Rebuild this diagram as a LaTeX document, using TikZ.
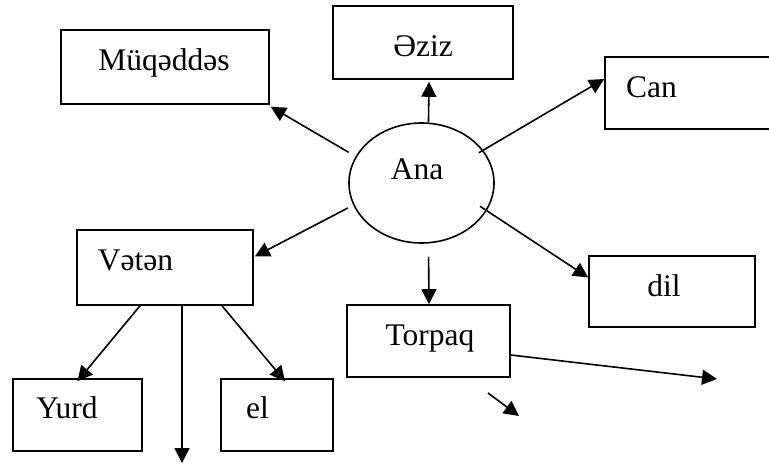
\documentclass[tikz,border=0pt]{standalone}
\usepackage{fontspec}
\setmainfont{Liberation Serif}
\usetikzlibrary{arrows.meta,shapes.geometric}
\begin{document}
\begin{tikzpicture}[x=1pt,y=-1pt,
  box/.style={draw,line width=1.6pt,inner sep=0pt,rectangle},
  txt/.style={anchor=base,inner sep=0pt,font=\fontsize{31.5}{36}\selectfont},
  arr/.style={line width=1.6pt,-{Triangle[length=15pt,width=15pt]}}]
\useasboundingbox (0,0) rectangle (769,476);
% boxes
\node[box,minimum width=208pt,minimum height=74pt] (muq) at (165,67) {};
\node[box,minimum width=180pt,minimum height=73pt] (aziz) at (423,42.5) {};
\node[box,minimum width=170pt,minimum height=72pt] (can) at (690,93) {};
\node[box,minimum width=166pt,minimum height=71pt] (dil) at (672,291.5) {};
\node[box,minimum width=163pt,minimum height=72pt] (torp) at (428.5,341) {};
\node[box,minimum width=176pt,minimum height=75pt] (vet) at (165,267.5) {};
\node[box,minimum width=129pt,minimum height=72pt] (yurd) at (77.5,415) {};
\node[box,minimum width=112pt,minimum height=72pt] (el) at (277,415) {};
\node[draw,line width=1.6pt,ellipse,inner sep=0pt,minimum width=145pt,minimum height=120pt] (ana) at (421.5,183) {};
% texts
\node[txt] (tmuq) at (164,71) {Müqəddəs};
\node[txt] (taziz) at (423,57) {Əziz};
\node[txt] (tcan) at (651.5,98) {Can};
\node[txt] (tana) at (417,180) {Ana};
\node[txt] (tdil) at (664,296) {dil};
\node[txt] (ttorp) at (430,345) {Torpaq};
\node[txt] (tvet) at (135.5,270) {Vətən};
\node[txt] (tyurd) at (67,418) {Yurd};
\node[txt] (tel) at (257.5,418) {el};
% free ends
\coordinate (tend) at (717,379);
\coordinate (s1) at (488,393);
\coordinate (s2) at (519,416);
\coordinate (vend) at (182,463);
% connectors
\draw[arr,shorten <=8pt] (ana.158) -- ([shift={(1pt,-2pt)}]muq.south east);
\draw[arr] ([xshift=7pt]ana.north) -- ([xshift=6pt,yshift=-2pt]aziz.south);
\draw[arr,shorten <=-5pt] (ana.28) -- ([yshift=14pt]can.west);
\draw[arr,shorten <=6pt] (ana.198) -- ([yshift=11pt,xshift=1pt]vet.east);
\draw[arr,shorten <=-8pt] (ana.-23) -- ([yshift=14pt]dil.west);
\draw[arr,shorten <=13pt] ([xshift=7pt]ana.south) -- ([xshift=0.5pt]torp.north);
\draw[arr] ([yshift=-14pt]torp.east) -- (tend);
\draw[arr] (s1) -- (s2);
\draw[arr] ([xshift=-25pt]vet.south) -- ([yshift=-3pt]yurd.north);
\draw[arr] ([xshift=57pt]vet.south) -- ([xshift=8pt,yshift=-3pt]el.north);
\draw[arr] ([xshift=17pt]vet.south) -- (vend);
\end{tikzpicture}
\end{document}
